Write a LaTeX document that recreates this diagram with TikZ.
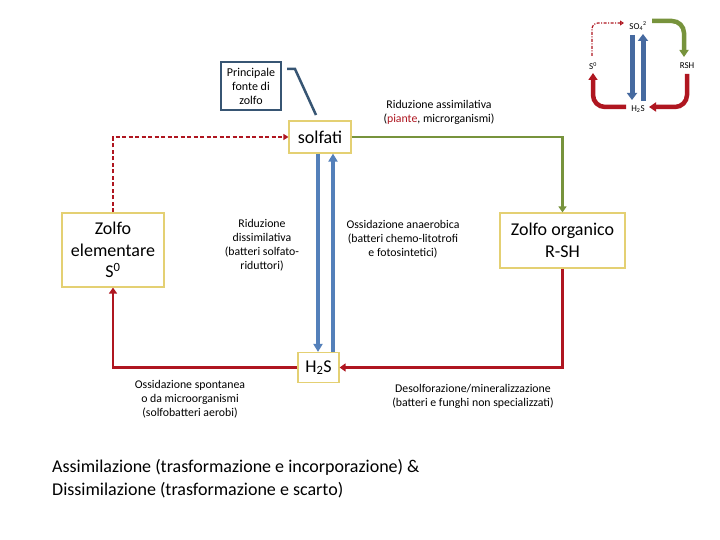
\documentclass[tikz,border=0pt]{standalone}
\usepackage{fontspec}
\setmainfont{Carlito}
\usetikzlibrary{arrows.meta,calc}
\definecolor{cred}{RGB}{175,22,32}
\definecolor{cgreen}{RGB}{119,147,60}
\definecolor{cblue}{RGB}{84,128,186}
\definecolor{cmblue}{RGB}{70,106,160}
\definecolor{cbox}{RGB}{228,208,115}
\definecolor{cslate}{RGB}{55,85,115}
\tikzset{
  ybox/.style={draw=cbox,line width=1.2pt,fill=white,align=center,inner sep=1pt,font=\fontsize{18}{21.5}\selectfont},
  smalltxt/.style={align=center,font=\fontsize{11.8}{14}\selectfont,inner sep=0pt},
  minitxt/.style={font=\fontsize{9}{10}\selectfont,inner sep=0pt},
  redarr/.style={draw=cred,line width=2.6pt,-{Triangle[width=8pt,length=6pt]}},
  reddash/.style={draw=cred,line width=1.5pt,dashed,dash pattern=on 4pt off 2.5pt,-{Triangle[width=6pt,length=5pt]}},
  greenarr/.style={draw=cgreen,line width=2.6pt,-{Triangle[width=8pt,length=6pt]}},
  bluearr/.style={draw=cblue,line width=3.6pt,-{Triangle[width=9pt,length=8pt]}},
  mblue/.style={draw=cmblue,line width=5pt,-{Triangle[width=10pt,length=7pt]}},
  mgreen/.style={draw=cgreen,line width=4.5pt,rounded corners=12pt,-{Triangle[width=9pt,length=7pt]}},
  mred/.style={draw=cred,line width=4.5pt,rounded corners=12pt,-{Triangle[width=9pt,length=7pt]}},
  mdash/.style={draw=cred,line width=1.2pt,dash pattern=on 3pt off 1.5pt on 1pt off 1.5pt,rounded corners=6pt,-{Triangle[open,width=5pt,length=4pt]}},
}
\begin{document}
\begin{tikzpicture}[x=1pt,y=-1pt]
\useasboundingbox[fill=white] (0,0) rectangle (720,540);

% main nodes
\node[draw=cslate,line width=2.5pt,minimum width=60pt,minimum height=48pt,align=center,inner sep=0pt,font=\fontsize{12}{14}\selectfont] (pf) at (251,86) {Principale\\fonte di\\zolfo};
\node[ybox,minimum width=62pt,minimum height=32pt] (solf) at (320,137) {solfati};
\node[ybox,minimum width=102pt,minimum height=74pt] (ze) at (113,250) {Zolfo\\elementare\\S\textsuperscript{0}};
\node[ybox,minimum width=125pt,minimum height=55pt] (zo) at (562.5,240.5) {Zolfo organico\\R-SH};
\node[ybox,minimum width=41pt,minimum height=30pt] (h2s) at (318.5,367.5) {H\textsubscript{2}S};

% callout line
\coordinate (c1) at (287,69);
\coordinate (c2) at (295,69);
\coordinate (c3) at (316,115);
\draw[cslate,line width=2.5pt] (c1) -- (c2) -- (c3);

% connectors
\draw[reddash] (ze.north) |- (solf.west);
\draw[greenarr] (solf.east) -| (zo.north);
\draw[redarr] (zo.south) |- (h2s.east);
\draw[redarr] (h2s.west) -| (ze.south);
\draw[bluearr] ([xshift=-2pt]solf.south) -- ([xshift=-2pt]solf.south |- h2s.north);
\draw[bluearr] ([xshift=14.5pt]h2s.north) -- ([xshift=14.5pt]h2s.north |- solf.south);

% labels
\node[smalltxt] (ra) at (439,112.5) {Riduzione assimilativa\\(\textcolor{cred}{piante}, microrganismi)};
\node[smalltxt] (rd) at (262,245) {Riduzione\\dissimilativa\\(batteri solfato-\\riduttori)};
\node[smalltxt] (oa) at (403,239) {Ossidazione anaerobica\\(batteri chemo-litotrofi\\e fotosintetici)};
\node[smalltxt] (os) at (190,399) {Ossidazione spontanea\\o da microorganismi\\(solfobatteri aerobi)};
\node[smalltxt] (ds) at (473,396) {Desolforazione/mineralizzazione\\(batteri e funghi non specializzati)};
\node[align=left,anchor=north west,inner sep=0pt,font=\fontsize{18}{23}\selectfont] (bt) at (52,459) {Assimilazione (trasformazione e incorporazione) \&\\Dissimilazione (trasformazione e scarto)};

% mini cycle
\node[minitxt] (so4) at (638,26) {SO\textsubscript{4}\textsuperscript{2}};
\node[minitxt] (s0) at (593,66) {S\textsuperscript{0}};
\node[minitxt] (rsh) at (687,66) {RSH};
\node[minitxt] (h2sm) at (638,109) {H\textsubscript{2}S};
\coordinate (g1) at (652,21);
\coordinate (g2) at (684,21);
\coordinate (g3) at (684,57);
\draw[mgreen] (g1) -- (g2) -- (g3);
\coordinate (r1) at (687,74);
\coordinate (r2) at (687,107);
\coordinate (r3) at (649,107);
\draw[mred] (r1) -- (r2) -- (r3);
\coordinate (r4) at (626,107);
\coordinate (r5) at (593,107);
\coordinate (r6) at (593,73);
\draw[mred] (r4) -- (r5) -- (r6);
\coordinate (b1) at (632,35);
\coordinate (b2) at (632,100);
\draw[mblue] (b1) -- (b2);
\coordinate (b3) at (643,101);
\coordinate (b4) at (643,34);
\draw[mblue] (b3) -- (b4);
\coordinate (d1) at (592,56);
\coordinate (d2) at (592,23);
\coordinate (d3) at (624,23);
\draw[mdash] (d1) -- (d2) -- (d3);
\end{tikzpicture}
\end{document}
